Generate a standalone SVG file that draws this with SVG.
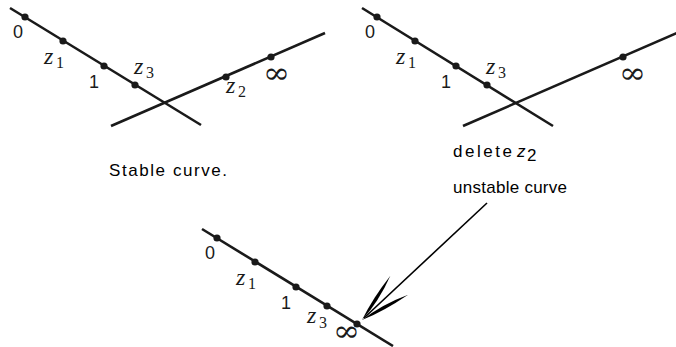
<svg xmlns="http://www.w3.org/2000/svg" width="676" height="347" viewBox="0 0 676 347">
<style>
.ln{stroke:#1a1a1a;stroke-width:2.6;fill:none;stroke-linecap:butt}
.dot{fill:#1a1a1a}
.num{font-family:"Liberation Sans",Arial,sans-serif;font-size:18px;fill:#1a1a1a}
.mz{font-family:"Liberation Serif","Times New Roman",serif;font-style:italic;font-size:24px;fill:#1a1a1a}
.ms{font-family:"Liberation Serif","Times New Roman",serif;font-size:16px;fill:#1a1a1a}
.inf{font-family:"DejaVu Serif",serif;font-size:30px;fill:#1a1a1a}
.txt{font-family:"Liberation Sans",Arial,sans-serif;font-size:17px;fill:#000}
.arr{stroke:#000;stroke-width:1.6;fill:none}
</style>
<defs>
<circle id="d" r="3.6" class="dot"/>
<g id="head">
<path d="M0,0 Q25,-2 51,-13 Q22,-8.5 0,0 Z" fill="#000"/>
<path d="M0,0 Q25,2 51,13 Q22,8.5 0,0 Z" fill="#000"/>
</g>
</defs>

<g id="stable">
<line class="ln" x1="10" y1="8" x2="201" y2="125"/>
<line class="ln" x1="111" y1="126" x2="325" y2="33"/>
<use href="#d" x="25" y="17"/>
<use href="#d" x="63" y="41"/>
<use href="#d" x="104" y="66"/>
<use href="#d" x="135" y="85"/>
<use href="#d" x="226" y="77"/>
<use href="#d" x="271" y="57"/>
<text class="num" x="13" y="38">0</text>
<text class="mz" x="44" y="64">z</text><text class="ms" x="56" y="68">1</text>
<text class="num" x="89" y="88">1</text>
<text class="mz" x="134" y="74">z</text><text class="ms" x="146" y="78">3</text>
<text class="mz" x="226" y="93">z</text><text class="ms" x="238" y="97">2</text>
<text class="inf" x="263" y="83" textLength="27" lengthAdjust="spacingAndGlyphs">∞</text>
<text class="txt" x="109" y="176" textLength="118" lengthAdjust="spacing">Stable curve.</text>
</g>

<g id="unstable">
<line class="ln" x1="362" y1="8" x2="553" y2="126"/>
<line class="ln" x1="463" y1="126" x2="677" y2="33"/>
<use href="#d" x="377" y="17"/>
<use href="#d" x="415" y="41"/>
<use href="#d" x="456" y="66"/>
<use href="#d" x="487" y="85"/>
<use href="#d" x="623" y="57"/>
<text class="num" x="365" y="38">0</text>
<text class="mz" x="396" y="64">z</text><text class="ms" x="408" y="68">1</text>
<text class="num" x="441" y="88">1</text>
<text class="mz" x="486" y="74">z</text><text class="ms" x="498" y="78">3</text>
<text class="inf" x="619" y="83" textLength="27" lengthAdjust="spacingAndGlyphs">∞</text>
<text class="txt" x="453" y="157" font-size="19" textLength="59" lengthAdjust="spacing">delete</text>
<text class="txt" x="517" y="157" font-size="20" font-style="italic">z</text><text class="txt" x="527" y="161" font-size="13">2</text>
<text class="txt" x="453" y="193" textLength="114" lengthAdjust="spacing">unstable curve</text>
</g>

<g id="result">
<line class="ln" x1="202" y1="229" x2="393" y2="346"/>
<use href="#d" x="217" y="238"/>
<use href="#d" x="255" y="262"/>
<use href="#d" x="296" y="287"/>
<use href="#d" x="327" y="306"/>
<use href="#d" x="357" y="324"/>
<text class="num" x="205" y="259">0</text>
<text class="mz" x="236" y="285">z</text><text class="ms" x="248" y="289">1</text>
<text class="num" x="281" y="309">1</text>
<text class="mz" x="307" y="323">z</text><text class="ms" x="319" y="328">3</text>
<text class="inf" x="333" y="341" font-size="28" textLength="27" lengthAdjust="spacingAndGlyphs">∞</text>
</g>

<g id="connectors">
<line class="arr" x1="487" y1="203" x2="364" y2="318"/>
<use href="#head" transform="translate(362,320) rotate(-43.1)"/>
</g>
</svg>
